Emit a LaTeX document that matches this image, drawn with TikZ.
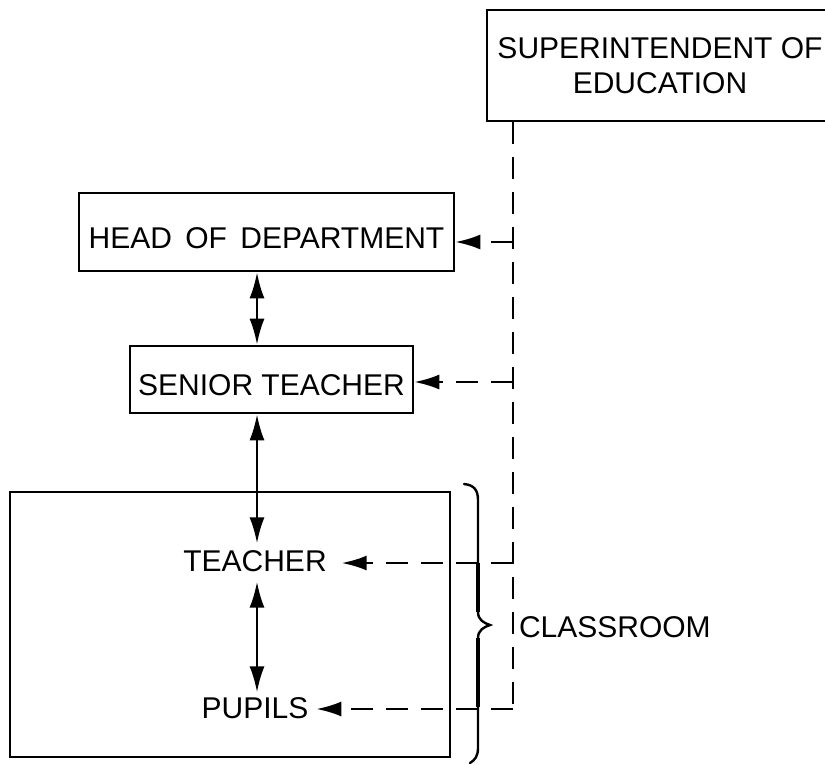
\documentclass[tikz,border=0pt]{standalone}
\usepackage{fontspec}
\setmainfont{Liberation Sans}
\usetikzlibrary{arrows.meta}
\begin{document}
\begin{tikzpicture}[x=1pt,y=-1pt,
  every node/.style={font=\fontsize{30}{35}\selectfont},
  boxnode/.style={draw, line width=2.6pt, inner sep=0pt, text height=32pt, text depth=0pt, anchor=center},
  lbl/.style={inner sep=0pt, outer sep=0pt},
  arr/.style={line width=2.4pt, {Latex[length=26pt,width=15pt]}-{Latex[length=26pt,width=15pt]}},
  darr/.style={line width=2.4pt, dash pattern=on 22pt off 13pt, -{Latex[length=25pt,width=15pt]}},
  dline/.style={line width=2.4pt, dash pattern=on 22pt off 13pt}]
\useasboundingbox (0,0) rectangle (825,764);
\clip (0,0) rectangle (825,764);
% boxes
\node[draw, line width=2.6pt, minimum width=346pt, minimum height=111pt, align=center, inner sep=0pt] (sup) at (660,65.5) {SUPERINTENDENT OF\\EDUCATION};
\node[boxnode, minimum width=375pt, minimum height=78pt] (hod) at (266.5,232) {HEAD\,\ OF\,\ DEPARTMENT};
\node[boxnode, minimum width=283pt, minimum height=67pt] (senior) at (271.5,379.5) {SENIOR TEACHER};
\node[draw, line width=2.6pt, minimum width=440pt, minimum height=265pt, inner sep=0pt] (classroom) at (230,624.5) {};
\node[lbl] (teacher) at (255,561) {TEACHER};
\node[lbl] (pupils) at (255,708) {PUPILS};
\node[lbl, anchor=west] (cls) at (519,627) {CLASSROOM};
% axis coordinates
\coordinate (ax) at (257,0);
\coordinate (dx) at (513,0);
\coordinate (d1) at (513,242);
\coordinate (d2) at (513,382);
\coordinate (d3) at (513,563);
\coordinate (d4) at (513,709);
% vertical solid arrows
\draw[arr] (hod.south -| ax) -- (senior.north -| ax);
\draw[arr, shorten >=7pt] (senior.south -| ax) -- (teacher.north -| ax);
\draw[arr, shorten <=10pt, shorten >=5pt] (teacher.south -| ax) -- (pupils.north -| ax);
% dashed line
\draw[dline] (sup.south -| dx) -- (d4);
\draw[darr] (d1) -- (d1 -| hod.east);
\draw[darr] (d2) -- (d2 -| senior.east);
\draw[darr, shorten >=15pt] (d3) -- (d3 -| teacher.east);
\draw[darr, shorten >=8pt] (d4) -- (d4 -| pupils.east);
% brace
\draw[line width=2.4pt, line cap=round] (464,484) .. controls (474,485) and (478,490) .. (478,500) -- (478,612) .. controls (478,620) and (484,623) .. (490,625) .. controls (484,627) and (478,630) .. (478,638) -- (478,748) .. controls (478,756) and (475,760) .. (470,763);
\draw[line width=4.5pt] (478,563) -- (478,612);
\draw[line width=4.5pt] (478,638) -- (478,707);
\end{tikzpicture}
\end{document}
